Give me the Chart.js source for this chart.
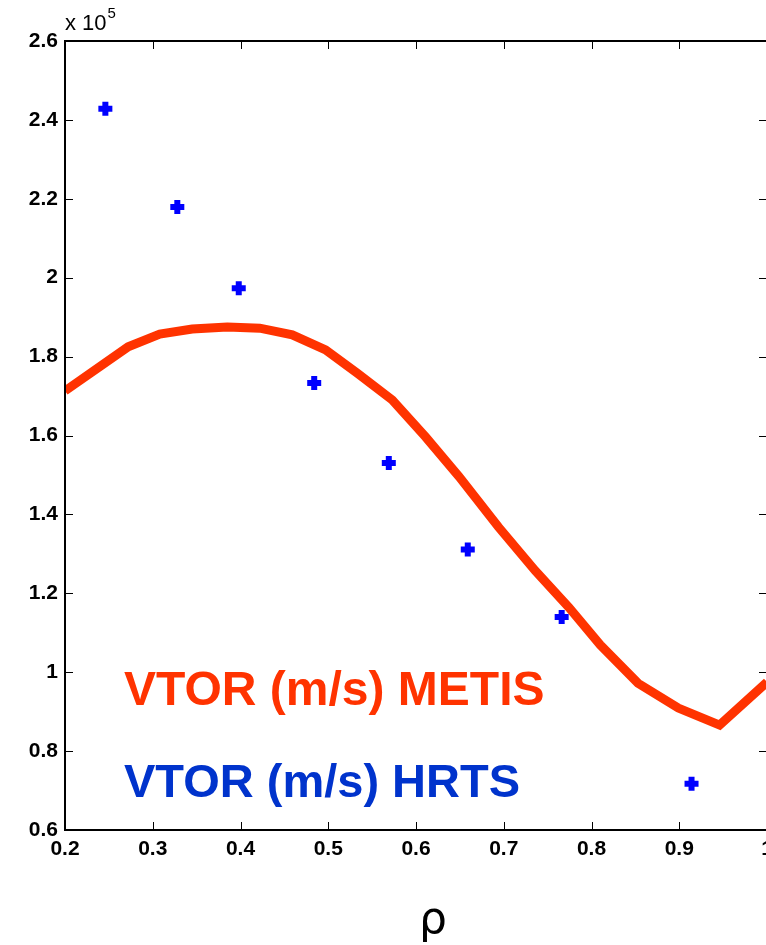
<!DOCTYPE html>
<html>
<head>
<meta charset="utf-8">
<script src="https://cdn.jsdelivr.net/npm/chart.js@4.4.1/dist/chart.umd.min.js"></script>
<style>
  html, body { margin: 0; padding: 0; background: #fff; overflow: hidden; width: 766px; height: 945px; }
  #wrap { position: relative; width: 800px; height: 945px; }
</style>
</head>
<body>
<div id="wrap"><canvas id="c" width="800" height="945"></canvas></div>
<script>
// ---- Data (VTOR in units of 1e5 m/s) ----
const metisRho  = [0.200, 0.272, 0.308, 0.345, 0.385, 0.422, 0.459, 0.497, 0.533, 0.573, 0.611, 0.649, 0.694, 0.736, 0.774, 0.810, 0.853, 0.899, 0.946, 1.000];
const metisVtor = [1.713, 1.825, 1.857, 1.870, 1.875, 1.872, 1.855, 1.817, 1.758, 1.690, 1.596, 1.496, 1.368, 1.257, 1.165, 1.069, 0.972, 0.909, 0.866, 0.975];
const hrtsRho   = [0.246, 0.328, 0.398, 0.484, 0.569, 0.659, 0.766, 0.914];
const hrtsVtor  = [2.428, 2.179, 1.973, 1.733, 1.530, 1.311, 1.140, 0.717];
const xTickValues = [0.2, 0.3, 0.4, 0.5, 0.6, 0.7, 0.8, 0.9, 1.0];
const yTickValues = [0.6, 0.8, 1.0, 1.2, 1.4, 1.6, 1.8, 2.0, 2.2, 2.4, 2.6];
const seriesNames = ['VTOR (m/s) METIS', 'VTOR (m/s) HRTS'];
const xTitle = 'ρ';
const yExponent = '5';

const metisPts = metisRho.map((x, i) => ({ x, y: metisVtor[i] }));
const hrtsPts  = hrtsRho.map((x, i) => ({ x, y: hrtsVtor[i] }));

const fmt = v => String(Number(Number(v).toFixed(1)));

const framePlugin = {
  id: 'frame',
  afterDatasetsDraw(chart) {
    const { ctx, chartArea: a, scales } = chart;
    ctx.save();
    // inward ticks on all four sides
    ctx.strokeStyle = '#000';
    ctx.lineWidth = 1;
    ctx.beginPath();
    xTickValues.forEach(v => {
      const px = Math.round(scales.x.getPixelForValue(v)) + 0.5;
      ctx.moveTo(px, a.bottom); ctx.lineTo(px, a.bottom - 8);
      ctx.moveTo(px, a.top); ctx.lineTo(px, a.top + 8);
    });
    yTickValues.forEach(v => {
      const py = Math.round(scales.y.getPixelForValue(v)) + 0.5;
      ctx.moveTo(a.left, py); ctx.lineTo(a.left + 8, py);
      ctx.moveTo(a.right, py); ctx.lineTo(a.right - 8, py);
    });
    ctx.stroke();
    // box
    ctx.lineWidth = 2;
    ctx.strokeRect(a.left, a.top, a.right - a.left, a.bottom - a.top);
    // exponent label
    ctx.fillStyle = '#000';
    ctx.textBaseline = 'alphabetic';
    ctx.textAlign = 'left';
    ctx.font = '22px "Liberation Sans", Arial, sans-serif';
    ctx.fillText('x 10', a.left, 30);
    const w = ctx.measureText('x 10').width;
    ctx.font = '15px "Liberation Sans", Arial, sans-serif';
    ctx.fillText(yExponent, a.left + w + 1, 18);
    // in-plot legend texts
    ctx.font = 'bold 48px "Liberation Sans", Arial, sans-serif';
    ctx.fillStyle = '#FF3300';
    ctx.fillText(seriesNames[0], 124, 705);
    ctx.font = 'bold 47px "Liberation Sans", Arial, sans-serif';
    ctx.fillStyle = '#0033CC';
    ctx.fillText(seriesNames[1], 124, 797);
    // x-axis title
    ctx.font = '44px "DejaVu Sans", sans-serif';
    ctx.fillStyle = '#000';
    ctx.textAlign = 'center';
    ctx.fillText(xTitle, 433, 933);
    ctx.restore();
  }
};

new Chart(document.getElementById('c'), {
  type: 'scatter',
  data: {
    datasets: [
      {
        label: seriesNames[0],
        data: metisPts,
        showLine: true,
        borderColor: '#FF3300',
        backgroundColor: '#FF3300',
        borderWidth: 9,
        pointRadius: 0,
        tension: 0,
        borderJoinStyle: 'miter',
        order: 2
      },
      {
        label: seriesNames[1],
        data: hrtsPts,
        showLine: false,
        pointStyle: 'cross',
        pointRadius: 7,
        pointBorderWidth: 6,
        borderColor: '#0000FF',
        backgroundColor: '#0000FF',
        order: 1
      }
    ]
  },
  options: {
    responsive: false,
    animation: false,
    events: [],
    layout: { padding: { top: 41, right: 33, left: 0, bottom: 0 } },
    plugins: { legend: { display: false }, tooltip: { enabled: false }, title: { display: false } },
    scales: {
      x: {
        type: 'linear',
        min: 0.2, max: 1.0,
        afterFit: s => { s.height = 115; },
        afterBuildTicks: s => { s.ticks = xTickValues.map(v => ({ value: v })); },
        grid: { display: false, drawTicks: false },
        border: { display: false },
        ticks: {
          autoSkip: false,
          maxRotation: 0,
          padding: 7,
          color: '#000',
          font: { family: '"Liberation Sans", Arial, sans-serif', size: 21, weight: 'bold' },
          callback: v => fmt(v)
        },
        title: { display: false }
      },
      y: {
        type: 'linear',
        min: 0.6, max: 2.6,
        afterFit: s => { s.width = 65; },
        afterBuildTicks: s => { s.ticks = yTickValues.map(v => ({ value: v })); },
        grid: { display: false, drawTicks: false },
        border: { display: false },
        ticks: {
          autoSkip: false,
          padding: 7,
          color: '#000',
          font: { family: '"Liberation Sans", Arial, sans-serif', size: 21, weight: 'bold' },
          callback: v => fmt(v)
        }
      }
    }
  },
  plugins: [framePlugin]
});
</script>
</body>
</html>
